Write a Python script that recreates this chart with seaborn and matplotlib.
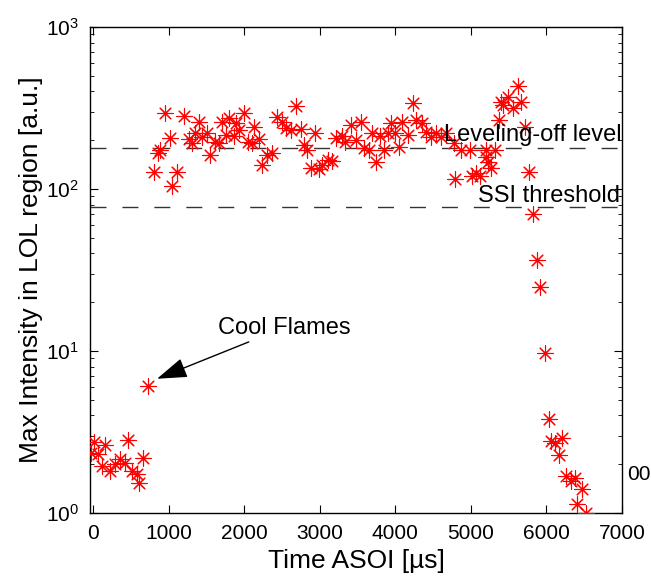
import numpy as np
import pandas as pd
import seaborn as sns
import matplotlib.pyplot as plt

# early phase (before ignition)
early_t = [-30, 13, 66, 119, 158, 224, 290, 356, 422, 461, 514, 580, 606, 659]
early_i = [2.35, 2.75, 2.32, 1.95, 2.63, 1.82, 2.01, 2.16, 2.04, 2.83, 1.82, 1.74, 1.53, 2.19]

# cool flame point
cool_t = [725]
cool_i = [6.1]

# main combustion phase
main_t = [804, 857, 883, 949, 1015, 1041, 1107, 1200, 1266, 1305, 1345, 1397, 1437, 1503,
          1542, 1608, 1661, 1701, 1766, 1793, 1859, 1898, 1938, 2004, 2056, 2109, 2136,
          2201, 2241, 2307, 2373, 2439, 2505, 2557, 2623, 2689, 2755, 2795, 2834, 2887,
          2940, 2992, 3032, 3111, 3164, 3216, 3296, 3335, 3414, 3480, 3546, 3586, 3652,
          3691, 3744, 3797, 3849, 3902, 3941, 3994, 4047, 4087, 4166, 4232, 4271, 4350,
          4403, 4469, 4535, 4601, 4667, 4772, 4785, 4864, 4983, 5009, 5062, 5115, 5194,
          5194, 5233, 5273, 5326, 5378, 5405, 5431, 5497, 5563, 5629, 5668, 5721, 5774]
main_i = [127, 166, 173, 294, 206, 104, 127, 281, 203, 191, 221, 258, 208, 221,
          161, 194, 191, 258, 214, 273, 211, 254, 230, 294, 194, 191, 240,
          203, 140, 161, 166, 277, 258, 237, 230, 324, 234, 186, 173, 134,
          221, 132, 140, 150, 148, 206, 211, 194, 247, 200, 258, 178, 173,
          221, 146, 211, 173, 221, 254, 221, 181, 258, 214, 338, 266, 254,
          224, 208, 221, 208, 221, 191, 116, 173, 173, 121, 125, 121, 173,
          157, 146, 134, 173, 266, 343, 329, 368, 315, 431, 343, 240, 127]

# decay after end of injection
drop_t = [5823, 5876, 5916, 5982, 6034, 6061, 6113, 6166, 6206, 6258, 6324, 6377, 6403, 6469, 6522]
drop_i = [69.7, 36.2, 25.0, 9.77, 3.81, 2.79, 2.71, 2.28, 2.91, 1.69, 1.58, 1.65, 1.14, 1.41, 1.0]

leveling_off = 180
ssi_threshold = 77

df = pd.DataFrame({
    "t": early_t + cool_t + main_t + drop_t,
    "I": early_i + cool_i + main_i + drop_i,
})

sns.set_theme(style="ticks")
plt.rcParams["font.family"] = ["Liberation Sans", "DejaVu Sans"]
plt.rcParams["mathtext.default"] = "regular"
plt.rcParams["text.color"] = "black"
plt.rcParams["axes.labelcolor"] = "black"
plt.rcParams["xtick.color"] = "black"
plt.rcParams["ytick.color"] = "black"

fig = plt.figure(figsize=(6.51, 5.87), dpi=100)
ax = fig.add_axes([90 / 651, 74 / 587, 532 / 651, 486 / 587])

sns.scatterplot(data=df, x="t", y="I", marker=(8, 2, 0), s=120, color="red",
                linewidth=0.8, ax=ax, legend=False, zorder=3)

ax.axhline(leveling_off, color="#333333", lw=1.0, dashes=(11.5, 11.5), zorder=2)
ax.axhline(ssi_threshold, color="#333333", lw=1.0, dashes=(11.5, 11.5), zorder=2)

ax.set_yscale("log")
ax.set_xlim(-40, 7000)
ax.set_ylim(1, 1000)
ax.set_xticks(range(0, 7001, 1000))

ax.text(7000, 197, "Leveling-off level", ha="right", va="baseline", fontsize=17, zorder=4)
ax.text(6980, 82.6, "SSI threshold", ha="right", va="baseline", fontsize=17, zorder=4)
ax.annotate("Cool Flames", xy=(847, 6.74), xytext=(1654, 12.8),
            ha="left", va="baseline", fontsize=17,
            arrowprops=dict(arrowstyle="-|>,head_length=0.75,head_width=0.25", color="black",
                            lw=1.0, mutation_scale=25, shrinkA=0, shrinkB=0))

ax.set_xlabel("Time ASOI [µs]", fontsize=19, labelpad=4)
ax.set_ylabel("Max Intensity in LOL region [a.u.]", fontsize=19, labelpad=2)

ax.tick_params(which="both", direction="in", top=True, right=True, labelsize=15)
ax.tick_params(which="major", length=6, width=0.8, pad=8)
ax.tick_params(which="minor", length=3, width=0.6)
for s in ax.spines.values():
    s.set_visible(True)
    s.set_color("black")
    s.set_linewidth(1.0)

fig.text(627 / 651, 1 - 475 / 587, "00", fontsize=15, ha="left", va="center")

fig.savefig("out.png", dpi=100, facecolor="white")
